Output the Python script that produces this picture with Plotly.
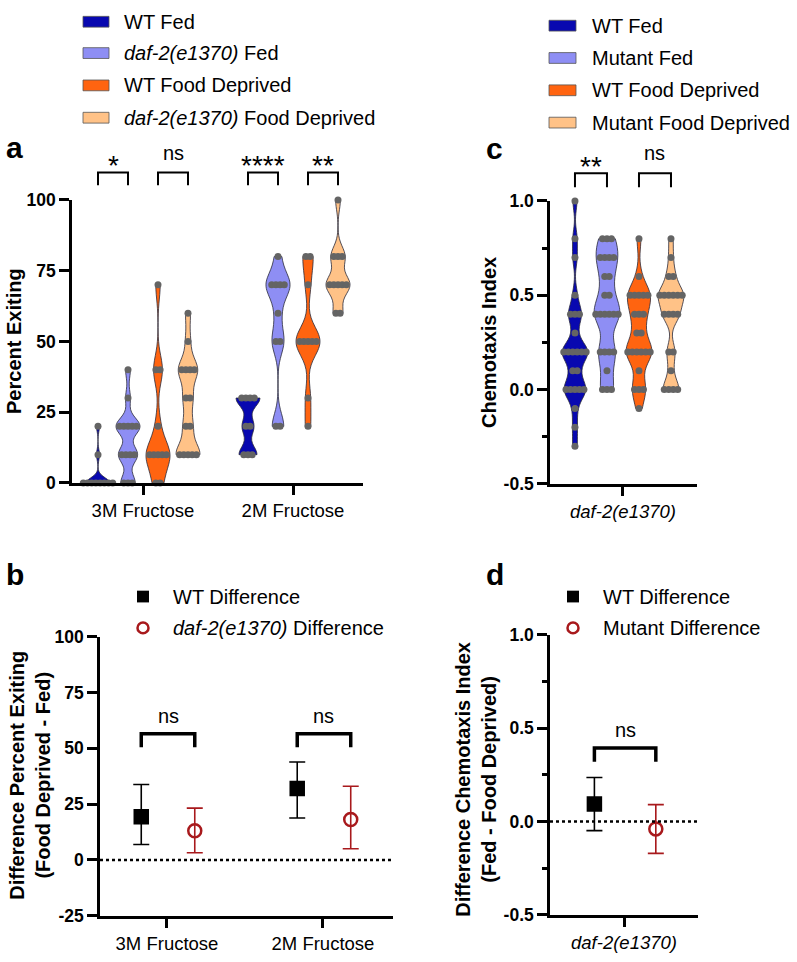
import plotly.graph_objects as go
from collections import Counter

W, H = 797, 962
FONT = "Liberation Sans, Arial, sans-serif"

# ---------------- data: panel a (Percent Exiting) ----------------
a_categories = ["3M Fructose", "2M Fructose"]
a_series = ["WT Fed", "<i>daf-2(e1370)</i> Fed", "WT Food Deprived",
            "<i>daf-2(e1370)</i> Food Deprived"]
a_wt_fed_3m = [0, 0, 0, 0, 0, 0, 0, 0, 10, 20]
a_mut_fed_3m = [0, 0, 0, 10, 10, 10, 10, 20, 20, 20, 20, 20, 30, 40]
a_wt_fd_3m = [0, 0, 10, 10, 10, 10, 10, 20, 40, 40, 70]
a_mut_fd_3m = [10, 10, 10, 10, 10, 20, 20, 30, 30, 40, 40, 40, 40, 50, 60]
a_wt_fed_2m = [10, 10, 10, 20, 20, 30, 30, 30, 30]
a_mut_fed_2m = [20, 20, 50, 50, 60, 70, 70, 70, 70, 80]
a_wt_fd_2m = [20, 30, 50, 50, 50, 50, 50, 70, 80, 80]
a_mut_fd_2m = [60, 60, 70, 70, 70, 70, 70, 80, 80, 80, 100]
a_sig = ["*", "ns", "****", "**"]

# ---------------- data: panel c (Chemotaxis Index) ----------------
c_categories = ["<i>daf-2(e1370)</i>"]
c_series = ["WT Fed", "Mutant Fed", "WT Food Deprived", "Mutant Food Deprived"]
c_wt_fed = [1.0, 0.8, 0.7, 0.5, 0.4, 0.4, 0.4, 0.3, 0.2, 0.2, 0.2, 0.2, 0.2, 0.2,
            0.1, 0.1, 0.0, 0.0, 0.0, 0.0, 0.0, -0.1, -0.2, -0.3]
c_mut_fed = [0.8, 0.8, 0.8, 0.7, 0.7, 0.7, 0.7, 0.6, 0.6, 0.5, 0.5, 0.4, 0.4, 0.4,
             0.4, 0.4, 0.4, 0.2, 0.2, 0.2, 0.2, 0.1, 0.0, 0.0, 0.0]
c_wt_fd = [0.8, 0.6, 0.5, 0.5, 0.5, 0.5, 0.5, 0.4, 0.4, 0.4, 0.3, 0.3, 0.2, 0.2,
           0.2, 0.2, 0.2, 0.2, 0.1, 0.0, 0.0, 0.0, -0.1]
c_mut_fd = [0.8, 0.7, 0.6, 0.6, 0.5, 0.5, 0.5, 0.5, 0.5, 0.5, 0.4, 0.4, 0.4, 0.4,
            0.2, 0.2, 0.1, 0.0, 0.0, 0.0, 0.0]
c_sig = ["**", "ns"]

# ---------------- data: panel b (difference percent exiting) ----------------
b_categories = ["3M Fructose", "2M Fructose"]
b_series = ["WT Difference", "<i>daf-2(e1370)</i> Difference"]
b_wt_mean = [19.3, 32.0]
b_wt_low = [6.9, 18.8]
b_wt_high = [33.8, 43.9]
b_mut_mean = [13.1, 18.1]
b_mut_low = [3.2, 5.0]
b_mut_high = [23.2, 33.0]
b_sig = ["ns", "ns"]

# ---------------- data: panel d (difference chemotaxis index) ----------------
d_categories = ["<i>daf-2(e1370)</i>"]
d_series = ["WT Difference", "Mutant Difference"]
d_wt_mean = [0.094]
d_wt_low = [-0.049]
d_wt_high = [0.235]
d_mut_mean = [-0.04]
d_mut_low = [-0.171]
d_mut_high = [0.09]
d_sig = ["ns"]

# ---------------- style ----------------
VIOLIN_COLORS = ["#0808b0", "#8e8ef4", "#ff6410", "#ffc287"]
A_BANDWIDTH = [[1.8, 3.0, 5.0, 4.0], [3.0, 4.5, 5.0, 3.5]]
C_BANDWIDTH = [0.05, 0.07, 0.06, 0.05]
POINT_COLOR = "#646464"
WT_COLOR = "#000000"
MUT_COLOR = "#a8191c"


def dom_x(p0, p1):
    return [p0 / W, p1 / W]


def dom_y(top, bottom):
    return [1 - bottom / H, 1 - top / H]


def yp(v, dom, rng):
    return dom[0] + (v - rng[0]) / (rng[1] - rng[0]) * (dom[1] - dom[0])


A_XD, A_YD, A_XR, A_YR = dom_x(72, 363), dom_y(194, 483), [-0.4733, 1.4667], [0, 100]
C_XD, C_YD, C_XR, C_YR = dom_x(550, 697), dom_y(195, 484), [-0.456, 0.4625], [-0.5, 1.0]
B_XD, B_YD, B_XR, B_YR = dom_x(100, 393), dom_y(640, 925), [-0.4295, 1.449], [-25, 100]
D_XD, D_YD, D_XR, D_YR = dom_x(550, 698), dom_y(638, 924), [-0.5, 0.5], [-0.5, 1.0]

fig = go.Figure()


def swarm(vals, center, step):
    counts = Counter(round(v, 6) for v in vals)
    xs, ys = [], []
    for v in sorted(counts):
        n = counts[v]
        for i in range(n):
            xs.append(center + (i - (n - 1) / 2) * step)
            ys.append(v)
    return xs, ys


def add_violin(vals, pos, color, bw, xa, ya, width):
    fig.add_trace(go.Violin(
        x=[pos] * len(vals), y=vals, width=width, spanmode="hard", points=False,
        fillcolor=color, line=dict(color="#2a2a3a", width=0.8), bandwidth=bw,
        scalemode="width", showlegend=False, box_visible=False, meanline_visible=False,
        opacity=1, xaxis=xa, yaxis=ya, hoverinfo="y"))
    xs, ys = swarm(vals, pos, 0.028)
    fig.add_trace(go.Scatter(
        x=xs, y=ys, mode="markers", marker=dict(color=POINT_COLOR, size=7),
        cliponaxis=False, showlegend=False, xaxis=xa, yaxis=ya, hoverinfo="y"))


offsets4 = [-0.3, -0.1, 0.1, 0.3]

# panel a violins
a_data = [[a_wt_fed_3m, a_mut_fed_3m, a_wt_fd_3m, a_mut_fd_3m],
          [a_wt_fed_2m, a_mut_fed_2m, a_wt_fd_2m, a_mut_fd_2m]]
for gi, group in enumerate(a_data):
    for si, vals in enumerate(group):
        add_violin(vals, gi + offsets4[si], VIOLIN_COLORS[si], A_BANDWIDTH[gi][si],
                   "x", "y", 0.16)

# panel c violins
c_data = [c_wt_fed, c_mut_fed, c_wt_fd, c_mut_fd]
for si, vals in enumerate(c_data):
    add_violin(vals, offsets4[si], VIOLIN_COLORS[si], C_BANDWIDTH[si], "x2", "y2", 0.16)


# panels b and d: mean with CI
def add_diff(means, lows, highs, off, color, symbol, xa, ya):
    xs = [i + off for i in range(len(means))]
    fig.add_trace(go.Scatter(
        x=xs, y=means, mode="markers", cliponaxis=False, showlegend=False,
        xaxis=xa, yaxis=ya,
        marker=dict(symbol=symbol, size=13, color=color,
                    line=dict(color=color, width=2.5)),
        error_y=dict(type="data", symmetric=False,
                     array=[h - m for h, m in zip(highs, means)],
                     arrayminus=[m - l for m, l in zip(means, lows)],
                     color=color, thickness=1.6, width=8)))


B_OFF = [-0.165, 0.178]
D_OFF = [-0.2, 0.215]
add_diff(b_wt_mean, b_wt_low, b_wt_high, B_OFF[0], WT_COLOR, "square", "x3", "y3")
add_diff(b_mut_mean, b_mut_low, b_mut_high, B_OFF[1], MUT_COLOR, "circle-open", "x3", "y3")
add_diff(d_wt_mean, d_wt_low, d_wt_high, D_OFF[0], WT_COLOR, "square", "x4", "y4")
add_diff(d_mut_mean, d_mut_low, d_mut_high, D_OFF[1], MUT_COLOR, "circle-open", "x4", "y4")

shapes = []
annotations = []

# zero dotted lines
for xa, ya in [("x3", "y3"), ("x4", "y4")]:
    shapes.append(dict(type="line", xref=xa + " domain", yref=ya, x0=0, x1=1, y0=0, y1=0,
                       line=dict(color="black", width=2.5, dash="dot")))


def bracket(x0, x1, yleg, ytop, xref, yref, lw):
    shapes.append(dict(type="path", xref=xref, yref=yref,
                       path=f"M {x0},{yleg} L {x0},{ytop} L {x1},{ytop} L {x1},{yleg}",
                       line=dict(color="black", width=lw)))


def sig_text(txt, x, y, xref, yref, size=20):
    annotations.append(dict(text=txt, x=x, y=y, xref=xref, yref=yref, showarrow=False,
                            xanchor="center", yanchor="middle",
                            font=dict(family=FONT, size=size, color="black")))


# panel a brackets (above the axis range -> paper y)
pairs4 = [(0, 1), (2, 3)]
k = 0
for gi in range(len(a_categories)):
    for (s0, s1) in pairs4:
        x0, x1 = gi + offsets4[s0], gi + offsets4[s1]
        bracket(x0, x1, yp(105.2, A_YD, A_YR), yp(109.7, A_YD, A_YR), "x", "paper", 2)
        lab = a_sig[k]
        if "*" in lab:
            sig_text(lab, (x0 + x1) / 2, yp(112.3, A_YD, A_YR), "x", "paper", 28)
        else:
            sig_text(lab, (x0 + x1) / 2, yp(116.5, A_YD, A_YR), "x", "paper")
        k += 1

# panel c brackets
for k, (s0, s1) in enumerate(pairs4):
    x0, x1 = offsets4[s0], offsets4[s1]
    bracket(x0, x1, yp(1.073, C_YD, C_YR), yp(1.147, C_YD, C_YR), "x2", "paper", 2)
    lab = c_sig[k]
    if "*" in lab:
        sig_text(lab, (x0 + x1) / 2, yp(1.18, C_YD, C_YR), "x2", "paper", 28)
    else:
        sig_text(lab, (x0 + x1) / 2, yp(1.255, C_YD, C_YR), "x2", "paper")

# panel b brackets
for gi in range(len(b_categories)):
    x0, x1 = gi + B_OFF[0], gi + B_OFF[1]
    bracket(x0, x1, 50.5, 56.5, "x3", "y3", 3.5)
    sig_text(b_sig[gi], (x0 + x1) / 2, 64.3, "x3", "y3")

# panel d bracket
x0, x1 = D_OFF[0], D_OFF[1]
bracket(x0, x1, 0.32, 0.393, "x4", "y4", 3.5)
sig_text(d_sig[0], (x0 + x1) / 2, 0.492, "x4", "y4")


def ann_px(text, px, py, size, bold=False, anchor="left", angle=0):
    annotations.append(dict(
        text=f"<b>{text}</b>" if bold else text, x=px / W, y=1 - py / H,
        xref="paper", yref="paper", showarrow=False, xanchor=anchor, yanchor="middle",
        textangle=angle, align="center",
        font=dict(family=FONT, size=size, color="black")))


# manual legends a and c (colour swatches)
for i, (name, py) in enumerate(zip(a_series, [12, 44, 77, 110])):
    shapes.append(dict(type="rect", xref="paper", yref="paper", x0=83 / W, x1=109 / W,
                       y0=1 - (py + 5.5) / H, y1=1 - (py - 5.5) / H,
                       fillcolor=VIOLIN_COLORS[i], line=dict(color="#555555", width=0.8)))
    ann_px(name, 122, py, 20)
for i, (name, py) in enumerate(zip(c_series, [16, 49, 82, 115])):
    shapes.append(dict(type="rect", xref="paper", yref="paper", x0=549 / W, x1=576 / W,
                       y0=1 - (py + 5.5) / H, y1=1 - (py - 5.5) / H,
                       fillcolor=VIOLIN_COLORS[i], line=dict(color="#555555", width=0.8)))
    ann_px(name, 590, py, 20)


# manual legends b and d (marker symbols)
def marker_legend(names, mx, tx):
    rows = [599, 631]
    shapes.append(dict(type="rect", xref="paper", yref="paper",
                       x0=(mx - 6) / W, x1=(mx + 6) / W,
                       y0=1 - (rows[0] + 6) / H, y1=1 - (rows[0] - 6) / H,
                       fillcolor=WT_COLOR, line=dict(width=0)))
    shapes.append(dict(type="circle", xref="paper", yref="paper",
                       x0=(mx - 5.5) / W, x1=(mx + 5.5) / W,
                       y0=1 - (rows[1] + 5.5) / H, y1=1 - (rows[1] - 5.5) / H,
                       line=dict(color=MUT_COLOR, width=2.5)))
    for name, py in zip(names, rows):
        ann_px(name, tx, py, 20)


marker_legend(b_series, 143, 171)
marker_legend(d_series, 573, 601)

# panel letters
ann_px("a", 4, 140, 30, bold=True)
ann_px("b", 4, 576, 30, bold=True)
ann_px("c", 484, 141, 30, bold=True)
ann_px("d", 484, 576, 30, bold=True)

# axis titles
ann_px("Percent Exiting", 14, 338, 20, bold=True, anchor="center", angle=-90)
ann_px("Chemotaxis Index", 489, 340, 20, bold=True, anchor="center", angle=-90)
ann_px("Difference Percent Exiting<br>(Food Deprived - Fed)", 30, 782, 20, bold=True,
       anchor="center", angle=-90)
ann_px("Difference Chemotaxis Index<br>(Fed - Food Deprived)", 476, 786, 20, bold=True,
       anchor="center", angle=-90)

axis_common = dict(showline=True, linewidth=2.5, linecolor="black", ticks="outside",
                   tickwidth=2.5, tickcolor="black", showgrid=False, zeroline=False,
                   fixedrange=True)
ytickfont = dict(family=FONT, size=17.5, color="black", weight="bold")
xtickfont = dict(family=FONT, size=18.5, color="black")

minor_c = dict(tickvals=[-0.25, 0.25, 0.75], ticklen=5, tickwidth=2.5, tickcolor="black",
               ticks="outside", showgrid=False)

fig.update_layout(
    width=W, height=H, margin=dict(l=0, r=0, t=0, b=0),
    paper_bgcolor="white", plot_bgcolor="white", showlegend=False,
    violinmode="overlay",
    font=dict(family=FONT, color="black"),
    xaxis=dict(domain=A_XD, range=A_XR, anchor="y", tickvals=[0, 1], ticktext=a_categories,
               ticklen=9, tickfont=xtickfont, **axis_common),
    yaxis=dict(domain=A_YD, range=A_YR, anchor="x", tickvals=[0, 25, 50, 75, 100],
               ticktext=["0", "25", "50", "75", "100"], ticklen=10, tickfont=ytickfont,
               **axis_common),
    xaxis2=dict(domain=C_XD, range=C_XR, anchor="y2", tickvals=[0], ticktext=c_categories,
                ticklen=9, tickfont=xtickfont, **axis_common),
    yaxis2=dict(domain=C_YD, range=C_YR, anchor="x2", tickvals=[-0.5, 0, 0.5, 1.0],
                ticktext=["-0.5", "0.0", "0.5", "1.0"], ticklen=10, tickfont=ytickfont,
                minor=minor_c, **axis_common),
    xaxis3=dict(domain=B_XD, range=B_XR, anchor="y3", tickvals=[0, 1], ticktext=b_categories,
                ticklen=9, tickfont=xtickfont, **axis_common),
    yaxis3=dict(domain=B_YD, range=B_YR, anchor="x3", tickvals=[-25, 0, 25, 50, 75, 100],
                ticktext=["-25", "0", "25", "50", "75", "100"], ticklen=10,
                tickfont=ytickfont, **axis_common),
    xaxis4=dict(domain=D_XD, range=D_XR, anchor="y4", tickvals=[0], ticktext=d_categories,
                ticklen=9, tickfont=xtickfont, **axis_common),
    yaxis4=dict(domain=D_YD, range=D_YR, anchor="x4", tickvals=[-0.5, 0, 0.5, 1.0],
                ticktext=["-0.5", "0.0", "0.5", "1.0"], ticklen=10, tickfont=ytickfont,
                minor=minor_c, **axis_common),
    shapes=shapes, annotations=annotations,
)

fig.write_html("out.html")
